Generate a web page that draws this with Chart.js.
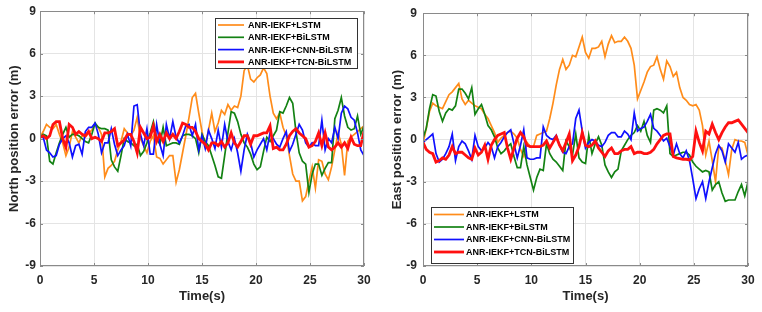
<!DOCTYPE html>
<html>
<head>
<meta charset="utf-8">
<script src="https://cdn.jsdelivr.net/npm/chart.js@4.4.0/dist/chart.umd.min.js"></script>
<style>
  html, body { margin: 0; padding: 0; background: #fff; }
  #wrap { position: relative; width: 762px; height: 312px; }
  canvas { position: absolute; top: 0; }
</style>
</head>
<body>
<div id="wrap">
  <canvas id="north" width="381" height="312" style="left:0"></canvas>
  <canvas id="east" width="381" height="312" style="left:381px"></canvas>
</div>
<script>
// sample clock: 0 .. 30 s every 0.3 s
const time = Array.from({ length: 101 }, (_, i) => +(i * 0.3).toFixed(1));

const xTicks = [0, 5, 10, 15, 20, 25, 30];
const yTicks = [-9, -6, -3, 0, 3, 6, 9];

const names = ['ANR-IEKF+LSTM', 'ANR-IEKF+BiLSTM', 'ANR-IEKF+CNN-BiLSTM', 'ANR-IEKF+TCN-BiLSTM'];
const colors = ['#ff8c1a', '#138213', '#1010ff', '#ff1010'];

// North position error (m)
const northLstm = [
  0.1, 0.5, 1.0, 0.8, 0.7, 1.0, 0.3, -0.3, -1.2, -0.6,
  0.5, 0.1, -0.3, 0.2, 0.1, 0.4, 0.6, 1.0, 0.8, 0.3,
  -2.7, -2.1, -1.9, -1.6, -0.8, -0.2, 0.7, 0.4, 0.2, 0.6,
  1.5, 0.0, -0.5, -1.0, -0.2, 0.2, -1.3, -1.4, -1.8, -1.5,
  -1.2, -1.2, -3.1, -2.2, -1.0, 0.2, 1.5, 2.9, 3.2, 1.8,
  0.5, -0.5, 0.6, 1.8, 0.5, 1.1, 2.0, 1.7, 2.4, 2.0,
  2.3, 2.2, 3.0, 4.8, 5.2, 4.2, 4.0, 4.3, 4.5, 5.0,
  4.6, 3.0, 1.8, 1.4, 1.8, 0.8, 0.2, -1.2, -2.5, -3.0,
  -3.0, -4.4, -4.1, -3.0, -2.0, -3.5, -1.5, -1.6, -2.5, -2.9,
  -2.0, -0.8, 0.4, -0.4, -2.6, -0.2, 0.1, 0.3, 0.5, 0.7,
  0.9
];
const northBiLstm = [
  0.1, 0.3, 0.2, -1.6, -1.8, -1.0, -0.3, 0.3, 0.8, 0.1,
  0.3, 0.3, 0.2, 0.0, -0.2, -0.3, 0.3, 1.1, 0.8, 0.7,
  0.7, 0.6, -1.5, -2.0, -2.3, -1.2, 0.0, -0.2, -0.3, -0.5,
  -0.4, -1.2, -0.9, -0.3, 0.4, 1.2, 0.0, -0.4, 0.8, -0.5,
  -0.4, -0.3, -0.3, -0.4, 0.2, 0.3, 0.3, 0.2, 0.0, -1.0,
  0.3, -0.2, -0.5, -1.2, -1.9, -2.7, -2.8, -1.2, 0.4, 1.9,
  1.8, 1.2, 0.3, -0.3, -0.6, -1.1, -1.8, -2.2, -2.0, -0.9,
  0.1, -0.2, 0.2, 0.6, 1.9, 1.8, 2.3, 2.9, 2.5, 0.5,
  -1.0, -1.6, -1.8, -3.8, -2.5, -1.8, -1.8, -2.6, -2.1, -1.7,
  -1.7, 1.4, 2.0, 2.9, 1.6, 0.8, 0.6, 0.7, 1.6, 0.3,
  0.9
];
const northCnn = [
  0.1, 0.1, -0.8, -1.0, -1.3, -1.2, -0.4, 0.0, 0.2, -0.3,
  -1.3, -0.5, -0.4, -1.1, 0.5, 0.8, 0.8, 1.1, 0.3, -1.0,
  -0.3, -0.3, 0.7, -0.4, -1.2, -0.8, -0.5, 0.3, -0.5, 2.3,
  2.4, 0.3, -0.5, 0.7, -1.1, -1.1, 1.0, -0.4, -1.2, 1.0,
  0.0, 1.2, 0.1, -0.3, 0.2, 0.9, 1.0, 0.2, 1.0, -0.8,
  0.2, -0.7, 0.6, 0.0, -0.7, 0.6, -0.6, 1.0, -0.2, -0.8,
  0.0, -1.0, -2.3, -0.8, 0.3, -0.3, -1.3, -0.8, -0.4, 0.0,
  -0.8, 0.4, 0.0, -0.4, -0.6, 0.0, 0.5, -0.9, -0.4, 0.3,
  1.0, 0.6, -0.3, -0.6, -0.3, -0.5, -0.5, 1.3, -0.8, 0.0,
  -0.3, 0.8, 0.0, 1.8, 2.3, 2.1, 1.5, 1.3, 0.4, -0.8,
  -1.2
];
const northTcn = [
  0.1, 0.2, 0.0, 0.2, 1.0, 1.2, 1.2, 0.0, -0.6, 1.0,
  0.8, 0.3, 0.5, 0.3, 0.2, 0.5, 0.0, 0.1, 0.0, -0.2,
  0.4, 0.4, 0.5, 0.7, -0.5, -0.3, -0.1, 0.3, 0.3, -0.2,
  -1.0, 0.8, 0.4, 0.0, 0.1, 0.9, -0.2, 0.3, -0.2, 0.4,
  0.0, 0.3, 0.0, 0.5, 1.1, 1.0, 0.8, 0.8, 0.5, 0.0,
  -0.2, -0.4, -0.8, -0.3, -0.3, -0.5, -0.2, -0.6, -0.3, 0.4,
  -0.3, -0.6, -0.2, 0.2, 0.2, -0.4, 0.2, 0.2, 0.3, 0.4,
  0.4, 0.9, -0.7, -0.6, -0.8, -0.8, -0.4, 0.2, 0.5, 0.7,
  0.4, 0.2, 0.0, -0.6, -0.5, -0.2, 0.4, -0.5, 0.4, -0.6,
  -0.8, -0.6, -0.3, -0.6, -0.3, -0.7, 0.1, -0.4, -0.5, -0.5,
  0.5
];

// East position error (m)
const eastLstm = [
  -0.3, 0.8, 2.0, 2.6, 2.4, 2.3, 2.2, 2.7, 3.2, 3.4,
  3.7, 4.0, 2.9, 2.5, 2.8, 2.6, 2.4, 2.3, 2.2, 1.8,
  1.5, 1.0, 0.5, -0.2, 0.1, 0.3, 0.5, 0.6, 0.4, 0.1,
  -0.7, -1.2, -0.2, -0.5, -0.5, 0.3, 0.4, 0.5, 0.6, 1.5,
  2.6, 3.9, 5.0, 5.7, 5.0, 5.3, 6.0, 5.9, 6.6, 7.3,
  6.2, 5.8, 6.5, 6.5, 6.6, 7.0, 5.9, 6.8, 7.4, 6.9,
  7.0, 7.0, 7.3, 7.0, 6.5, 5.3, 2.9, 3.5, 4.1, 4.8,
  5.2, 5.3, 5.9, 5.0, 4.3, 5.6, 5.2, 4.5, 4.8, 3.7,
  3.0, 2.8, 2.5, 2.4, 2.5, 2.1, 1.0, -1.1, -0.1, -1.5,
  -3.0, -0.5, -0.6, -1.5, -2.5, -0.7, 0.0, -0.1, -0.1, -0.2,
  -1.1
];
const eastBiLstm = [
  0.1, 0.8, 2.2, 3.2, 3.1, 2.0, 1.3, 1.9, 2.2, 2.1,
  2.4, 3.6, 3.6, 3.3, 2.9, 3.7, 1.8, 2.2, 2.5, 1.8,
  1.0, 0.7, 0.2, -0.6, -1.0, -0.8, -0.5, -0.3, -1.2, -2.0,
  -2.0, -0.5, -1.8, -2.7, -3.6, -2.7, -2.1, -2.2, -0.3, -1.0,
  -1.4, -1.6, -1.9, -2.2, -0.1, -0.5, -1.1, 0.4, -1.3, -1.6,
  -1.7, 0.3, -1.0, -0.3, 0.2, -0.4, -1.8, -2.3, -2.7, -2.3,
  -2.1, -0.8, -0.4, 0.0, 0.3, 0.5, 1.0, 0.6, 1.3, 0.3,
  -0.2, 2.1, 2.2, 2.1, 1.9, 2.4, -1.0, -1.2, -1.1, -1.0,
  -0.9, -0.9, -1.1, -1.6, -1.9, -2.1, -2.3, -2.2, -2.3, -3.6,
  -3.2, -3.0, -3.8, -4.4, -4.3, -4.3, -4.3, -3.7, -3.2, -4.0,
  -3.0
];
const eastCnn = [
  -0.2, 0.0, 0.2, 0.4, -1.0, -1.6, -1.4, -1.0, -0.5, 0.4,
  -1.5, -0.5, -0.1, -0.3, -0.8, -1.4, 0.3, -0.5, -0.8, -0.6,
  -0.2, -0.5, -1.3, -0.5, -0.2, 0.2, 0.5, 0.7, -0.3, -1.3,
  -0.4, 0.7, -1.3, -1.4, -1.4, -1.3, -1.3, 0.9, 0.3, 0.1,
  0.0, 0.3, -0.4, -0.9, -1.0, -0.5, -0.3, 1.5, 2.1, 0.6,
  -0.6, -0.2, 0.0, -0.1, -0.4, -0.5, -0.2, 0.3, 0.5, 0.5,
  0.2, 0.2, 0.6, 0.4, 0.0, 1.9, 0.6, 0.8, 0.9, 1.3,
  1.8, 0.8, 0.6, 0.3, -0.1, 0.1, -0.5, -1.1, -0.3, -1.0,
  -1.3, -0.8, -1.5, -2.8, -4.2, -3.5, -3.0, -4.2, -3.0, -2.0,
  -1.0, -0.4, -0.8, -1.6, -0.3, -0.6, -0.9, -0.2, -1.4, -1.2,
  -1.1
];
const eastTcn = [
  -0.2, -0.7, -0.9, -1.0, -1.6, -1.5, -1.3, -1.4, -1.1, -0.5,
  -1.0, -0.9, -0.9, -1.1, -1.3, -1.4, -0.6, -1.1, -0.9, -0.4,
  -1.4, -0.4, 0.0, 0.3, 0.4, 0.5, -0.6, -1.4, -0.6, 0.1,
  0.5, 0.2, -0.4, -0.5, -0.5, -0.5, -0.5, -0.4, -0.1, -0.6,
  -0.2, 0.2, -0.4, -0.8, -0.2, 0.4, -1.5, -1.1, -0.5, 0.5,
  -0.4, -0.5, -0.4, -0.1, -0.6, -0.9, -1.2, -0.8, -0.6, -1.0,
  -1.0, -0.8, -0.7, -0.7, -0.5, -1.0, -0.9, -0.9, -1.0, -1.0,
  -0.9, -0.7, -0.3, 0.0, 0.3, 0.4, 0.4, -1.2, -1.3, -1.35,
  -1.4, -1.4, -1.45, -1.2, 0.6, -0.2, -0.8, 0.6, 0.4, 1.1,
  0.5, 0.0, 0.5, 0.9, 1.2, 1.2, 1.3, 1.4, 1.1, 0.8,
  0.5
];

const FONT = '"Liberation Sans", Arial, sans-serif';
const TEXT = '#262626';

// box around the plot plus small inward ticks, matlab style
const framePlugin = {
  id: 'frame',
  afterDatasetsDraw(chart) {
    const { ctx, chartArea: a, scales } = chart;
    ctx.save();
    ctx.strokeStyle = '#8a8a8a';
    ctx.lineWidth = 1;
    ctx.beginPath();
    xTicks.forEach(v => {
      const px = Math.round(scales.x.getPixelForValue(v)) + 0.5;
      ctx.moveTo(px, a.bottom); ctx.lineTo(px, a.bottom - 3);
      ctx.moveTo(px, a.top); ctx.lineTo(px, a.top + 3);
    });
    yTicks.forEach(v => {
      const py = Math.round(scales.y.getPixelForValue(v)) + 0.5;
      ctx.moveTo(a.left, py); ctx.lineTo(a.left + 3, py);
      ctx.moveTo(a.right, py); ctx.lineTo(a.right - 3, py);
    });
    ctx.stroke();
    ctx.strokeRect(Math.round(a.left) + 0.5, Math.round(a.top) + 0.5,
                   Math.round(a.width) - 1, Math.round(a.height) - 1);
    ctx.restore();
  }
};

// legend drawn as a white box inside the plot
const boxLegend = {
  id: 'boxLegend',
  afterDraw(chart, args, o) {
    const ctx = chart.ctx;
    ctx.save();
    ctx.fillStyle = '#fff';
    ctx.fillRect(o.x, o.y, o.w, o.h);
    ctx.strokeStyle = '#333';
    ctx.lineWidth = 1;
    ctx.strokeRect(o.x + 0.5, o.y + 0.5, o.w, o.h);
    ctx.font = 'bold 9px ' + FONT;
    ctx.textBaseline = 'middle';
    chart.data.datasets.forEach((ds, k) => {
      const y = o.y + o.first + k * o.rowH;
      ctx.strokeStyle = ds.borderColor;
      ctx.lineWidth = ds.borderWidth;
      ctx.beginPath();
      ctx.moveTo(o.x + o.lineX, y);
      ctx.lineTo(o.x + o.lineX + o.lineLen, y);
      ctx.stroke();
      ctx.fillStyle = '#000';
      ctx.fillText(ds.label, o.x + o.textX, y + 0.5);
    });
    ctx.restore();
  }
};

function makeChart(id, series, yTitle, legendBox, axisW, rightPad, tickPad) {
  return new Chart(document.getElementById(id), {
    type: 'line',
    data: {
      datasets: names.map((name, k) => ({
        label: name,
        data: time.map((t, i) => ({ x: t, y: series[k][i] })),
        borderColor: colors[k],
        borderWidth: k === 3 ? 2.8 : 1.7,
        pointRadius: 0,
        tension: 0,
        order: 4 - k
      }))
    },
    options: {
      responsive: false,
      animation: false,
      devicePixelRatio: 1,
      layout: { padding: { top: 11, right: rightPad, left: 0, bottom: 0 } },
      scales: {
        x: {
          type: 'linear',
          min: 0,
          max: 30,
          afterBuildTicks: s => { s.ticks = xTicks.map(v => ({ value: v })); },
          afterFit: s => { s.height = 46; },
          grid: { color: '#e4e4e4', drawTicks: false },
          border: { display: false },
          ticks: { padding: 7, color: TEXT, font: { family: FONT, size: 12, weight: 'bold' } },
          title: {
            display: true, text: 'Time(s)', color: TEXT,
            font: { family: FONT, size: 13, weight: 'bold' },
            padding: { top: 0, bottom: 8 }
          }
        },
        y: {
          min: -9,
          max: 9,
          afterBuildTicks: s => { s.ticks = yTicks.map(v => ({ value: v })); },
          afterFit: s => { s.width = axisW; },
          grid: { color: '#e4e4e4', drawTicks: false },
          border: { display: false },
          ticks: { padding: tickPad, color: TEXT, font: { family: FONT, size: 12, weight: 'bold' } },
          title: {
            display: true, text: yTitle, color: TEXT,
            font: { family: FONT, size: 13, weight: 'bold' },
            padding: { top: axisW - 33, bottom: 0 }
          }
        }
      },
      plugins: {
        legend: { display: false },
        tooltip: { enabled: false },
        boxLegend: legendBox
      }
    },
    plugins: [framePlugin, boxLegend]
  });
}

makeChart('north', [northLstm, northBiLstm, northCnn, northTcn], 'North position error (m)',
  { x: 215, y: 18, w: 142, h: 50, first: 7, rowH: 12.3, lineX: 3, lineLen: 26, textX: 33 },
  40, 17, 4);

makeChart('east', [eastLstm, eastBiLstm, eastCnn, eastTcn], 'East position error (m)',
  { x: 50, y: 207, w: 142, h: 56, first: 7.5, rowH: 12.5, lineX: 3, lineLen: 30, textX: 35 },
  42, 14, 6);
</script>
</body>
</html>
